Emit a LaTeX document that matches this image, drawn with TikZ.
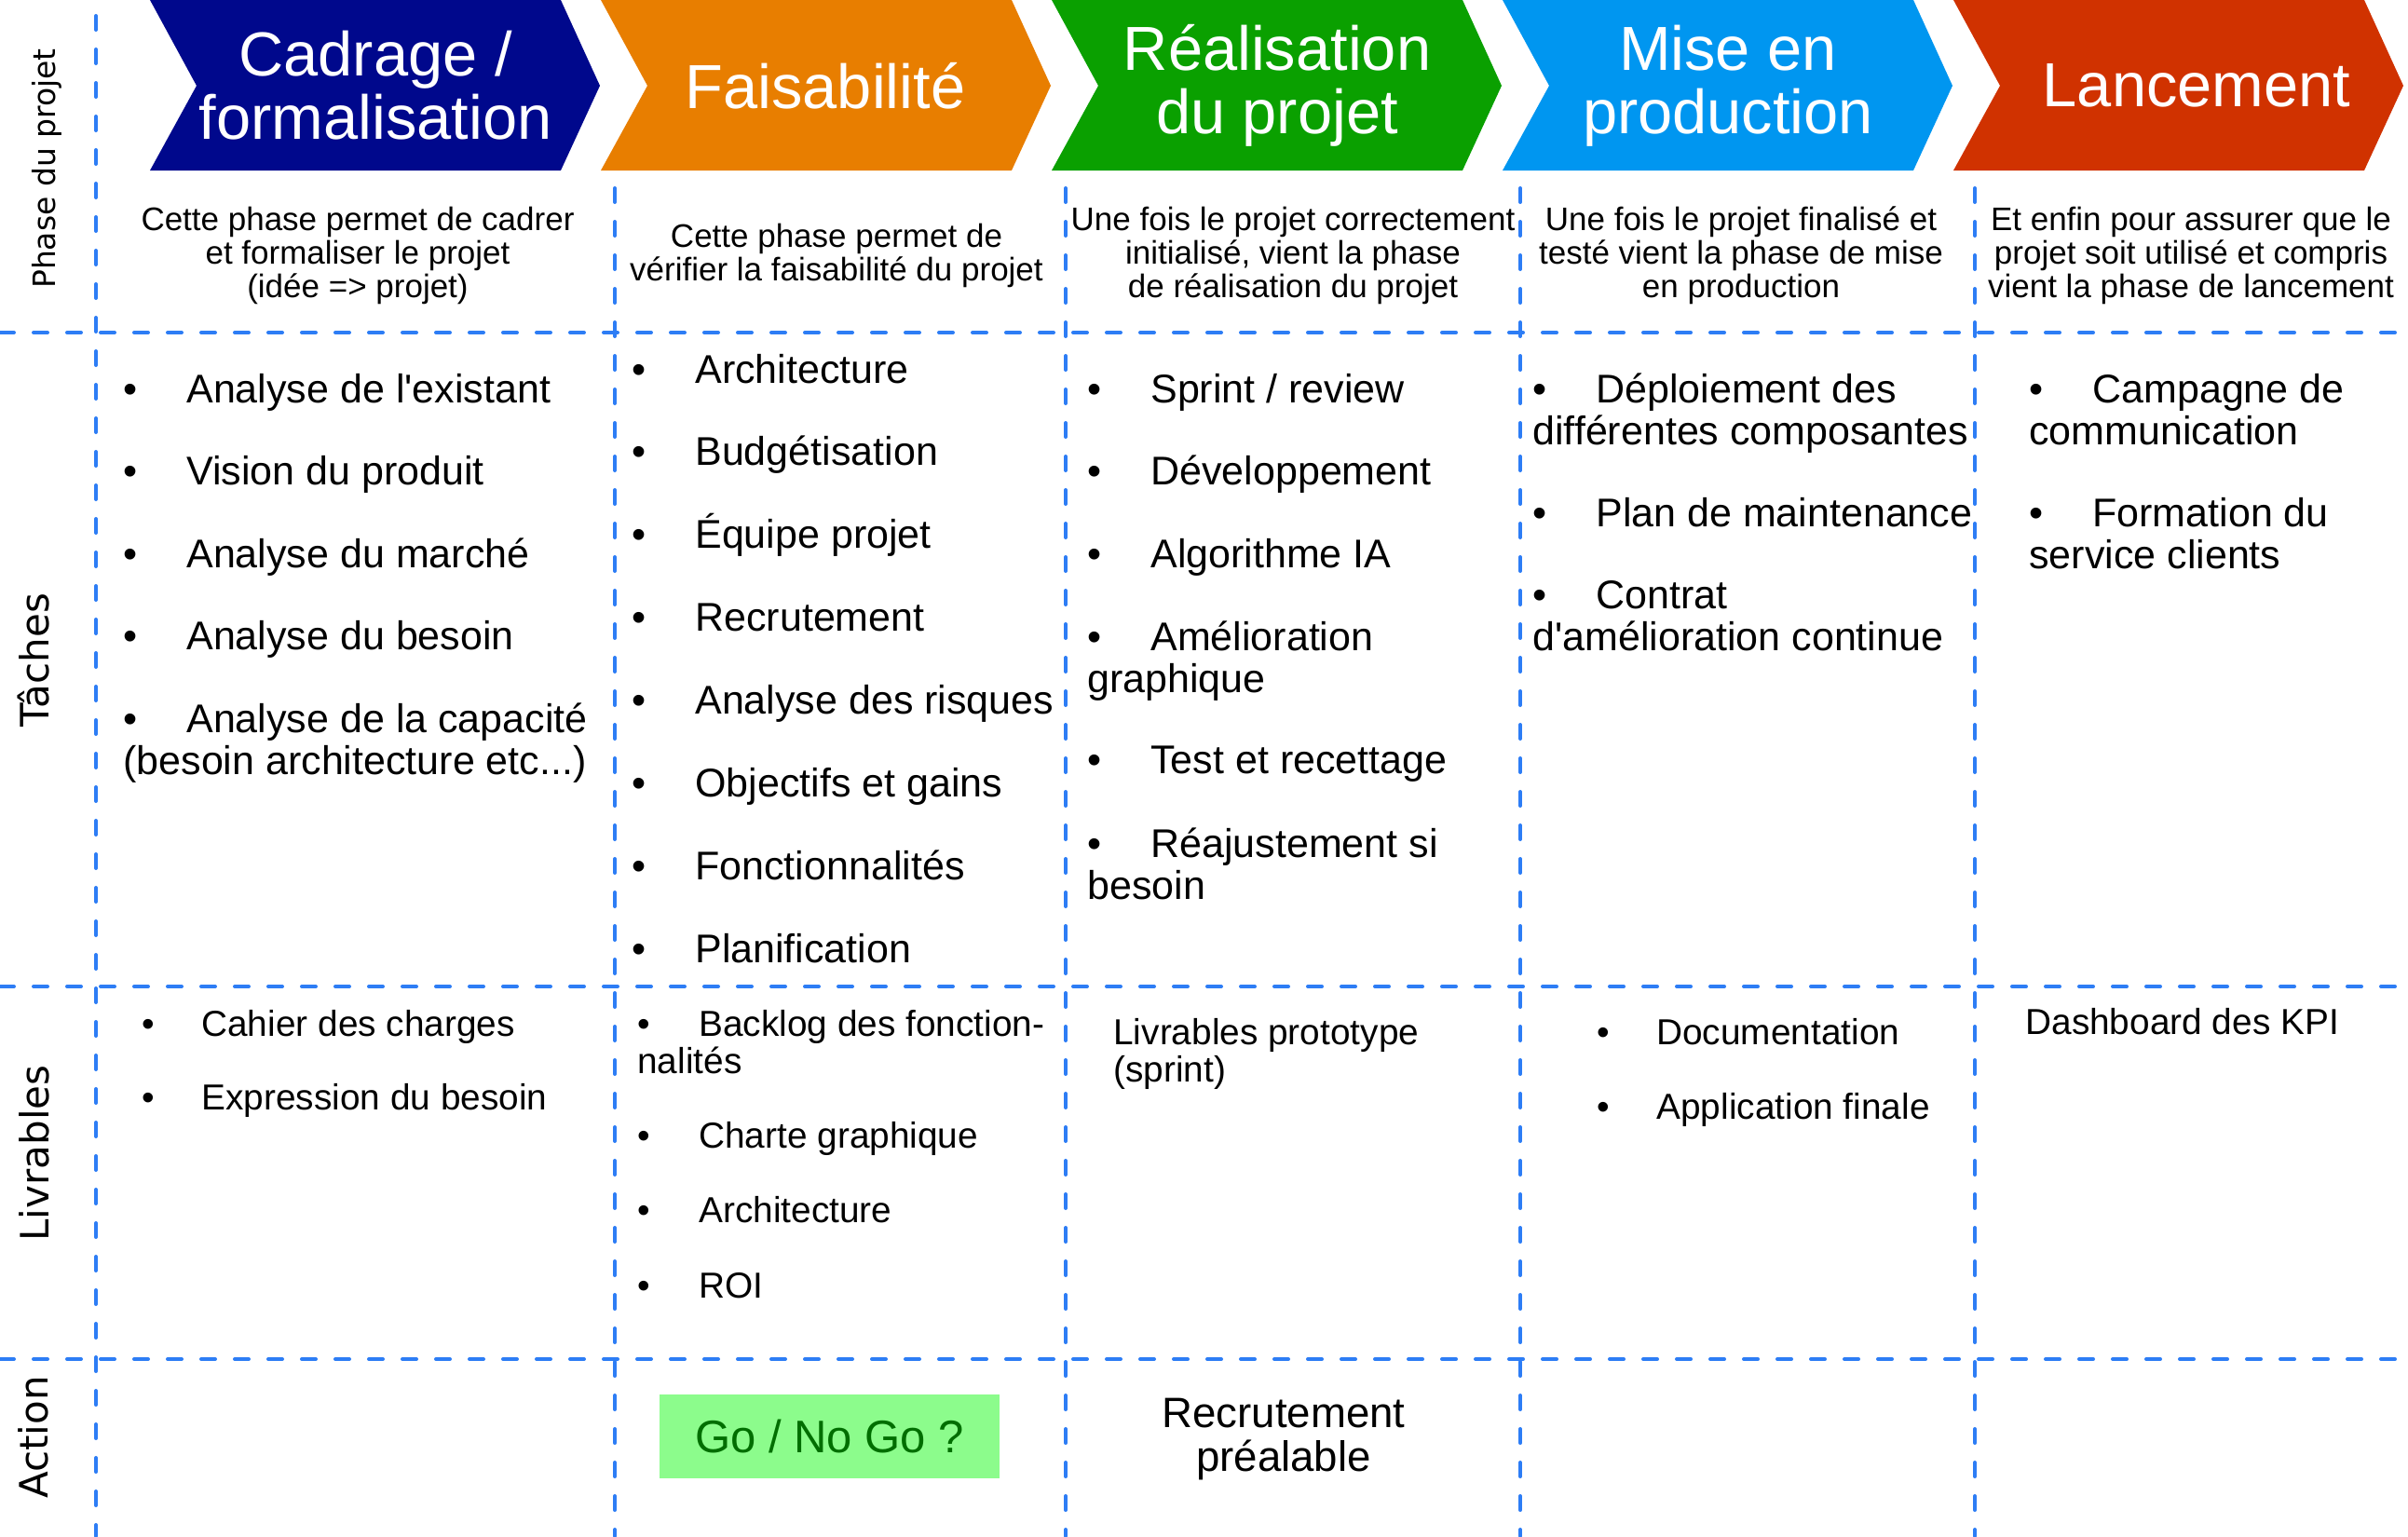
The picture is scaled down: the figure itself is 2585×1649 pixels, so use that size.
\documentclass[tikz,border=0pt]{standalone}
\usepackage{fontspec}
\setmainfont{Liberation Sans}
\newfontfamily\etiq{DejaVu Sans}
\usepackage{tikz}
\usetikzlibrary{positioning}
\definecolor{cadr}{RGB}{0,8,140}
\definecolor{fais}{RGB}{232,126,0}
\definecolor{real}{RGB}{10,160,0}
\definecolor{prod}{RGB}{0,150,240}
\definecolor{lanc}{RGB}{208,50,0}
\definecolor{tiret}{RGB}{45,125,245}
\definecolor{gofond}{RGB}{140,252,140}
\definecolor{gotexte}{RGB}{0,110,0}
\newcommand{\puce}[1][34pt]{\makebox[#1][l]{\textbullet}}
% deux lignes, ligne de base sur la premiere
\newcommand{\deux}[2]{\vtop{\halign{##\hfil\cr#1\cr#2\cr}}}
\newcommand{\deuxc}[2]{\vtop{\halign{\hfil##\hfil\cr#1\cr#2\cr}}}

\begin{document}
\begin{tikzpicture}[x=0.5pt, y=-0.5pt,
  grille/.style={draw=tiret, line width=2pt, dash pattern=on 7.5pt off 10.5pt, line cap=round},
  titre/.style={text=white, align=center, font=\fontsize{33.4}{34}\selectfont},
  descr/.style={align=center, font=\fontsize{17.5}{18}\selectfont},
  tache/.style={anchor=base west, inner sep=0pt, font=\fontsize{21.5}{22.5}\selectfont},
  livr/.style={anchor=base west, inner sep=0pt, font=\fontsize{19.4}{20}\selectfont},
  rang/.style={rotate=90, inner sep=0pt, font=\etiq\fontsize{21}{21}\selectfont},
  gobox/.style={fill=gofond, text=gotexte, minimum width=182.5pt, minimum height=45pt, inner sep=0pt, font=\fontsize{24.5}{24.5}\selectfont}]
  \useasboundingbox (0,0) rectangle (2585,1649);
  % Chevrons
  \foreach \xa/\coul in {161/cadr, 645/fais, 1129/real, 1613/prod, 2097/lanc}
    \fill[\coul] (\xa,0) -- (\xa+441,0) -- (\xa+483,92) -- (\xa+441,183) -- (\xa,183) -- (\xa+50,92) -- cycle;
  \node[titre] (t1) at (403,92) {Cadrage /\\formalisation};
  \node[titre] (t2) at (886,92) {Faisabilité};
  \node[titre] (t3) at (1371,92) {Réalisation\\du projet};
  \node[titre] (t4) at (1855,92) {Mise en\\production};
  \node[titre] (t5) at (2358,92) {Lancement};
  % Grille
  \draw[grille] (103,17) -- (103,1649);
  \foreach \x in {660,1144,1632,2120}
    \draw[grille] (\x,202) -- (\x,1649);
  \foreach \y in {357,1059,1459}
    \draw[grille] (0,\y) -- (2585,\y);
  % Rangees
  \node[rang, font=\etiq\fontsize{16.5}{16.5}\selectfont] (r1) at (50,181) {Phase du projet};
  \node[rang] (r2) at (36,709) {Tâches};
  \node[rang] (r3) at (37,1238) {Livrables};
  \node[rang] (r4) at (36,1543) {Action};
  % Descriptions
  \node[descr] (d1) at (384,274) {Cette phase permet de cadrer\\et formaliser le projet\\(idée => projet)};
  \node[descr] (d2) at (898,274) {Cette phase permet de\\vérifier la faisabilité du projet};
  \node[descr] (d3) at (1388,274) {Une fois le projet correctement\\initialisé, vient la phase\\de réalisation du projet};
  \node[descr] (d4) at (1869,274) {Une fois le projet finalisé et\\testé vient la phase de mise\\en production};
  \node[descr] (d5) at (2352,274) {Et enfin pour assurer que le\\projet soit utilisé et compris\\vient la phase de lancement};
  % Taches
  \foreach \t [count=\k] in {Analyse de l\textquotesingle existant, Vision du produit, Analyse du marché, Analyse du besoin}
    \node[tache] (ta\k) at (132,{432+88.5*(\k-1)}) {\puce\t};
  \node[tache] (ta5) at (132,786) {\deux{\puce Analyse de la capacité}{(besoin architecture etc...)}};
  \foreach \t [count=\k] in {Architecture, Budgétisation, Équipe projet, Recrutement, Analyse des risques, Objectifs et gains, Fonctionnalités, Planification}
    \node[tache] (tb\k) at (678,{411+88.86*(\k-1)}) {\puce\t};
  \node[tache] (tc1) at (1167,432) {\puce Sprint / review};
  \node[tache] (tc2) at (1167,520) {\puce Développement};
  \node[tache] (tc3) at (1167,609) {\puce Algorithme IA};
  \node[tache] (tc4) at (1167,698) {\deux{\puce Amélioration}{graphique}};
  \node[tache] (tc5) at (1167,830) {\puce Test et recettage};
  \node[tache] (tc6) at (1167,920) {\deux{\puce Réajustement si}{besoin}};
  \node[tache] (td1) at (1645,432) {\deux{\puce Déploiement des}{différentes composantes}};
  \node[tache] (td2) at (1645,565) {\puce Plan de maintenance};
  \node[tache] (td3) at (1645,653) {\deux{\puce Contrat}{d\textquotesingle amélioration continue}};
  \node[tache] (te1) at (2178,432) {\deux{\puce Campagne de}{communication}};
  \node[tache] (te2) at (2178,565) {\deux{\puce Formation du}{service clients}};
  % Livrables
  \node[livr] (la1) at (152,1112) {\puce[32pt]Cahier des charges};
  \node[livr] (la2) at (152,1191) {\puce[32pt]Expression du besoin};
  \node[livr] (lb1) at (684,1112) {\deux{\puce[33pt]Backlog des fonction-}{nalités}};
  \node[livr] (lb2) at (684,1232) {\puce[33pt]Charte graphique};
  \node[livr] (lb3) at (684,1312) {\puce[33pt]Architecture};
  \node[livr] (lb4) at (684,1393) {\puce[33pt]ROI};
  \node[livr] (lc1) at (1195,1121) {\deux{Livrables prototype}{(sprint)}};
  \node[livr] (ld1) at (1714,1121) {\puce[32pt]Documentation};
  \node[livr] (ld2) at (1714,1201) {\puce[32pt]Application finale};
  \node[livr] (le1) at (2174,1110) {Dashboard des KPI};
  % Actions
  \node[gobox] (go) at (890.5,1542) {Go / No Go ?};
  \node[anchor=base, inner sep=0pt, font=\fontsize{22.8}{23.5}\selectfont] (recr) at (1378,1532) {\deuxc{Recrutement}{préalable}};
\end{tikzpicture}
\end{document}
